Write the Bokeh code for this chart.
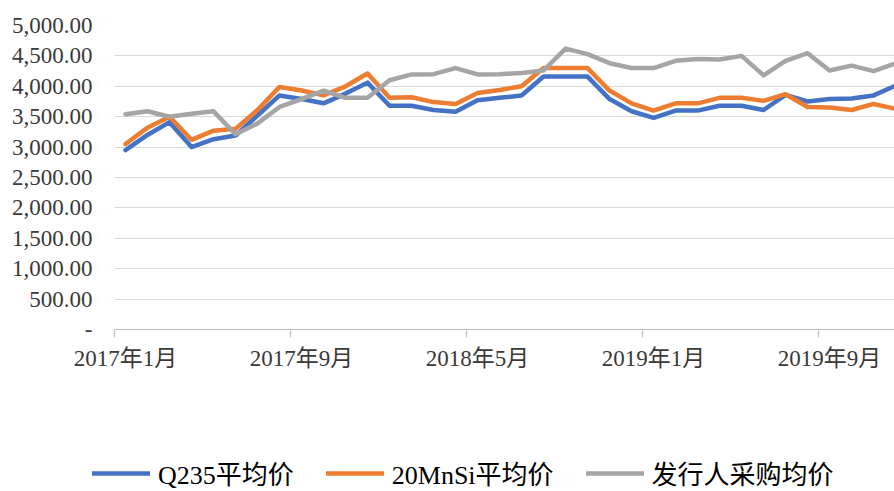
from bokeh.plotting import figure
from bokeh.layouts import column
from bokeh.models import (Range1d, FixedTicker, LinearAxis, Legend, LegendItem,
                          NumeralTickFormatter)
from bokeh.embed import file_html
from bokeh.resources import INLINE

# Monthly categories, 2017-01 .. 2019-12
months = [f"{y}年{m}月" for y in (2017, 2018, 2019) for m in range(1, 13)]

# Average prices (元/吨)
q235 = [2950, 3200, 3410, 3000, 3130, 3190, 3520, 3850, 3790, 3720, 3880, 4060,
        3680, 3680, 3610, 3580, 3770, 3810, 3850, 4160, 4160, 4160, 3790, 3590,
        3480, 3600, 3600, 3680, 3680, 3610, 3860, 3750, 3790, 3800, 3850, 4010]
mnsi = [3050, 3320, 3500, 3120, 3270, 3300, 3610, 3990, 3930, 3850, 4000, 4210,
        3810, 3820, 3740, 3710, 3890, 3940, 4000, 4300, 4300, 4300, 3930, 3720,
        3600, 3720, 3720, 3810, 3810, 3760, 3870, 3660, 3650, 3610, 3710, 3630]
purchase = [3540, 3590, 3500, 3550, 3590, 3210, 3390, 3660, 3790, 3930, 3810, 3810,
            4100, 4195, 4200, 4300, 4195, 4200, 4220, 4260, 4620, 4530, 4380, 4300,
            4300, 4420, 4450, 4440, 4500, 4180, 4420, 4545, 4260, 4340, 4250, 4380]

series = [q235, mnsi, purchase]
series_names = ["Q235平均价", "20MnSi平均价", "发行人采购均价"]
colors = ["#4472C4", "#ED7D31", "#A5A5A5"]
y_ticks = list(range(0, 5001, 500))
label_step = 8

FONT = "'Liberation Serif', 'Noto Sans CJK SC'"
x = list(range(len(months)))

p = figure(width=894, height=445, output_backend="svg", toolbar_location=None,
           x_range=Range1d(-0.5, 34.95), y_range=Range1d(0, 5000),
           x_axis_location=None, y_axis_location="left",
           min_border_left=114, min_border_right=0, min_border_top=25,
           min_border_bottom=116)
p.outline_line_color = None
p.background_fill_color = "white"
p.border_fill_color = "white"
p.xgrid.visible = False

# value axis
yax = p.yaxis[0]
yax.ticker = FixedTicker(ticks=y_ticks)
yax.formatter = NumeralTickFormatter(format="0,0.00")
yax.major_label_overrides = {0: "-"}
yax.axis_line_color = None
yax.major_tick_line_color = None
yax.minor_tick_line_color = None
yax.major_label_standoff = 16
yax.major_label_text_font = FONT
yax.major_label_text_font_size = "23px"
yax.major_label_text_color = "#3a3a3a"

p.ygrid.ticker = FixedTicker(ticks=y_ticks)
p.ygrid.grid_line_color = "#d9d9d9"
p.ygrid.grid_line_width = 1.2

# category axis: tick marks on group boundaries, labels on every 8th month
boundaries = [i - 0.5 for i in range(0, len(months), label_step)]
ax_ticks = LinearAxis(ticker=FixedTicker(ticks=boundaries),
                      major_label_overrides={b: "" for b in boundaries},
                      major_tick_in=0, major_tick_out=8,
                      major_tick_line_color="#bfbfbf", axis_line_color="#bfbfbf",
                      axis_line_width=1.2, major_tick_line_width=1.2,
                      minor_tick_line_color=None,
                      major_label_text_font_size="0px", major_label_standoff=0)
label_pos = list(range(0, len(months), label_step))
ax_labels = LinearAxis(ticker=FixedTicker(ticks=label_pos),
                       major_label_overrides={i: months[i] for i in label_pos},
                       axis_line_color=None, major_tick_line_color=None,
                       minor_tick_line_color=None, major_tick_out=0, major_tick_in=0,
                       major_label_standoff=8,
                       major_label_text_font=FONT,
                       major_label_text_font_size="23px",
                       major_label_text_color="#3a3a3a")
p.add_layout(ax_ticks, "below")
p.add_layout(ax_labels, "below")

for vals, c in zip(series, colors):
    p.line(x, vals, line_color=c, line_width=4.5,
           line_join="round", line_cap="round")

# legend strip underneath the chart; its key lines carry the same series,
# which fall outside the strip's own 0..1 range and so only show as legend keys
leg = figure(width=894, height=46, output_backend="svg", toolbar_location=None,
             x_range=Range1d(0, 1), y_range=Range1d(0, 1),
             x_axis_location=None, y_axis_location=None,
             min_border_left=0, min_border_right=0,
             min_border_top=0, min_border_bottom=0)
leg.outline_line_color = None
leg.xgrid.visible = False
leg.ygrid.visible = False

# keep the strip's frame at the page's left edge rather than aligned with the chart
legend_x = -22
if "frame_align" in leg.properties():
    leg.frame_align = False
    legend_x = 92

keys = [leg.line(x, vals, line_color=c, line_width=4.5, line_cap="round")
        for vals, c in zip(series, colors)]
legend = Legend(items=[LegendItem(label=n, renderers=[r])
                       for n, r in zip(series_names, keys)],
                orientation="horizontal", location=(legend_x, 0),
                glyph_width=58, glyph_height=20, label_standoff=8, spacing=32,
                padding=0, margin=0, border_line_color=None,
                background_fill_alpha=0,
                label_text_font=FONT, label_text_font_size="26px",
                label_text_color="#000000")
leg.add_layout(legend, "center")

layout = column(p, leg, spacing=0)
open("out.html", "w").write(file_html(layout, INLINE))
